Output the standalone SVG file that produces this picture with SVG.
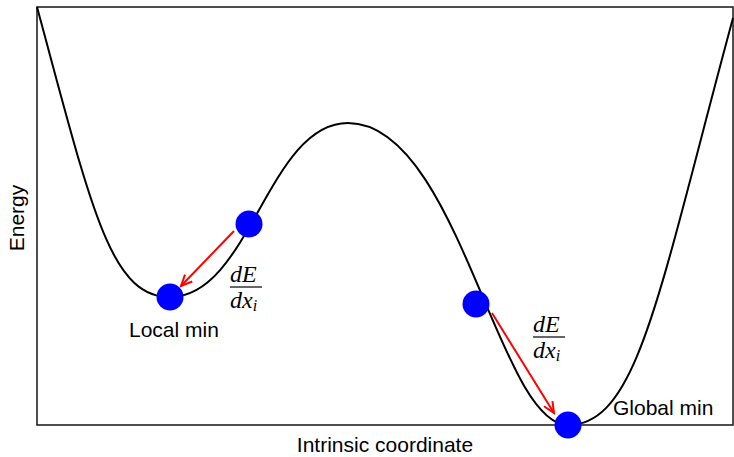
<svg xmlns="http://www.w3.org/2000/svg" width="734" height="457" viewBox="0 0 734 457">
<style>
.lbl{font-family:"Liberation Sans",Arial,sans-serif;font-size:21px;fill:#000}
.math{font-family:"Liberation Serif","Times New Roman",serif;font-style:italic;font-size:24px;fill:#000}
.dot{fill:#0000ff}
.arr{stroke:#ff0000;stroke-width:2;fill:none;marker-end:url(#ah)}
</style>
<defs>
<marker id="ah" markerWidth="14" markerHeight="12" refX="12" refY="6" orient="auto" markerUnits="userSpaceOnUse">
<path d="M1,1 L12,6 L1,11" fill="none" stroke="#ff0000" stroke-width="2"/>
</marker>
</defs>
<rect x="37" y="7" width="696" height="418" fill="#fff" stroke="#222" stroke-width="1.6"/>
<path id="curve" d="M37,7 C92,210 110,297 170,297 C250,297 268,123 348,123 C458,123 498,425 568,425 C638,425 658,295 733,18" fill="none" stroke="#000" stroke-width="2"/>
<g id="connectors">
<line class="arr" x1="234" y1="231" x2="181" y2="286"/>
<line class="arr" x1="492" y1="313" x2="554" y2="413"/>
</g>
<g id="node-upper-left"><circle class="dot" cx="249" cy="224" r="13.5"/></g>
<g id="node-local-min"><circle class="dot" cx="170" cy="297" r="13.5"/></g>
<g id="node-right"><circle class="dot" cx="476" cy="304" r="13.5"/></g>
<g id="node-global-min"><circle class="dot" cx="568" cy="425" r="13.5"/></g>
<g id="grad1">
<text class="math" x="230" y="282">dE</text>
<line x1="230" y1="287" x2="262" y2="287" stroke="#000" stroke-width="1.2"/>
<text class="math" x="230" y="308">dx<tspan font-size="16" dy="3">i</tspan></text>
</g>
<g id="grad2">
<text class="math" x="533" y="332">dE</text>
<line x1="533" y1="337" x2="565" y2="337" stroke="#000" stroke-width="1.2"/>
<text class="math" x="533" y="358">dx<tspan font-size="16" dy="3">i</tspan></text>
</g>
<text class="lbl" x="129" y="337">Local min</text>
<text class="lbl" x="613" y="415">Global min</text>
<text class="lbl" x="385" y="452" text-anchor="middle">Intrinsic coordinate</text>
<text class="lbl" transform="translate(24,218) rotate(-90)" text-anchor="middle">Energy</text>
</svg>
